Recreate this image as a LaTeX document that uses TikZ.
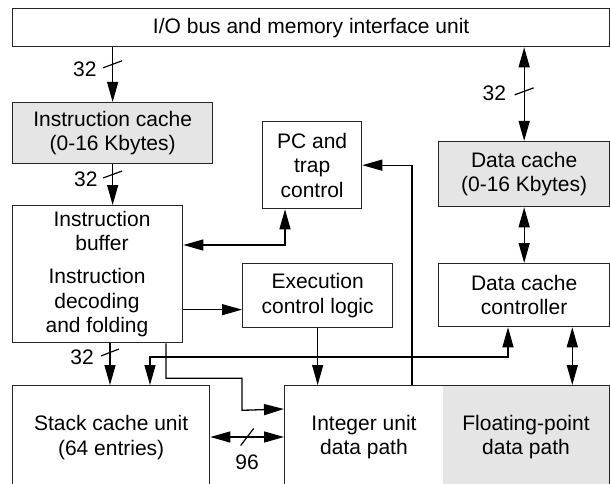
\documentclass[tikz,border=0pt]{standalone}
\usepackage{fontspec}
\setmainfont{Liberation Sans}
\usetikzlibrary{arrows.meta,positioning}

\tikzset{
  block/.style={draw=black!85, line width=1.3pt, anchor=north west, align=center, inner sep=0pt},
  cache/.style={block, fill=black!10},
  txt/.style={align=center, inner sep=0pt},
  wire/.style={line width=1.3pt, ->},
  wires/.style={line width=1.3pt, <->},
  busmark/.style={line width=1.2pt},
  buslabel/.style={inner sep=0pt}
}

\begin{document}
\begin{tikzpicture}[x=1pt, y=-1pt, font=\fontsize{21}{24.5}\selectfont,
    >={Triangle[length=20pt,width=11pt]}]
  \useasboundingbox (0,0) rectangle (610,484);
  \clip (0,0) rectangle (610,484);
  % blocks
  \node[block, minimum width=597pt, minimum height=38pt] (io) at (12,8) {I/O bus and memory interface unit};
  \node[cache, minimum width=200pt, minimum height=61pt] (icache) at (12,102) {Instruction cache\\(0-16 Kbytes)};
  \node[block, minimum width=170pt, minimum height=137pt] (ibuf) at (12,205) {};
  \node[txt] (ibuftop) at (102,231) {Instruction\\buffer};
  \node[txt] (ibufdec) at (97,303) {Instruction\\decoding\\and folding};
  \node[block, minimum width=99pt, minimum height=87pt] (pc) at (262,121) {PC and\\trap\\control};
  \node[block, minimum width=150pt, minimum height=64pt] (exec) at (242,263) {Execution\\control logic};
  \node[cache, minimum width=171pt, minimum height=65pt] (dcache) at (438,141) {Data cache\\(0-16 Kbytes)};
  \node[block, minimum width=171pt, minimum height=63pt] (dcc) at (438,263) {Data cache\\controller};
  \node[block, minimum width=197pt, minimum height=104pt] (stack) at (12,385) {Stack cache unit\\(64 entries)};
  \fill[black!10] (443,386) rectangle (610,490);
  \node[block, minimum width=325pt, minimum height=104pt] (intu) at (284,385) {};
  \node[txt] (inttext) at (364,437) {Integer unit\\data path};
  \node[txt] (fptext) at (526,437) {Floating-point\\data path};

  % port points
  \coordinate (ibpc) at ([yshift=-40pt]ibuf.north east);
  \coordinate (pcin) at ([xshift=23pt]pc.south west);
  \coordinate (ein) at ([yshift=-14pt]exec.west);
  \coordinate (fpin) at ([xshift=-38pt]dcc.south east);
  \coordinate (dccin) at ([xshift=70pt]dcc.south west);
  \coordinate (stin) at ([xshift=138pt]stack.north west);
  \coordinate (stbus) at ([xshift=98pt]stack.north west);
  \coordinate (ibout) at ([xshift=154pt]ibuf.south west);
  \coordinate (iuout) at ([xshift=128pt]intu.north west);
  \coordinate (iuin) at ([yshift=-24pt]intu.north west);
  \coordinate (st96) at ([yshift=-52pt]stack.north east);

  % connectors
  \draw[wire] (io.south -| icache.north) -- coordinate[pos=.31] (b1) (icache.north);
  \draw[wire] (icache.south) -- coordinate[pos=.25] (b2) (icache.south |- ibuf.north);
  \draw[wires] (io.south -| dcache.north) -- coordinate[pos=.47] (b3) (dcache.north);
  \draw[wires] (dcache.south) -- (dcc.north);
  \draw[wires] (ibpc) -| (pcin);
  \draw[wire] (ibuf.east |- ein) -- (ein);
  \draw[wire] (exec.south) -- (exec.south |- intu.north);
  \draw[wire] (iuout) |- (pc.east);
  \draw[wires] (fpin) -- (fpin |- intu.north);
  \draw[wires] (stin) -- ++(0,-28) -| (dccin);
  \draw[wire] (stbus |- ibuf.south) -- coordinate[pos=.22] (b4) (stbus);
  \draw[wire] (ibout) -- ++(0,35) -| ++(76,32) -- (iuin);
  \draw[wires] (st96) -- coordinate[pos=.5] (b5) (st96 -| intu.west);

  % bus widths
  \draw[busmark] ([shift={(-9.5,3.5)}]b1) -- ([shift={(9.5,-3.5)}]b1);
  \node[buslabel, left=16pt of b1, yshift=-5pt] (w1) {32};
  \draw[busmark] ([shift={(-9.5,3.5)}]b2) -- ([shift={(9.5,-3.5)}]b2);
  \node[buslabel, left=15pt of b2, yshift=-5pt] (w2) {32};
  \draw[busmark] ([shift={(-9.5,3.5)}]b3) -- ([shift={(9.5,-3.5)}]b3);
  \node[buslabel, left=18pt of b3, yshift=-1.5pt] (w3) {32};
  \draw[busmark] ([shift={(-9,3.5)}]b4) -- ([shift={(9,-3.5)}]b4);
  \node[buslabel, left=16pt of b4, yshift=-5pt] (w4) {32};
  \draw[busmark] ([shift={(-6.5,8.5)}]b5) -- ([shift={(6.5,-8.5)}]b5);
  \node[buslabel, below=18pt of b5] (w5) {96};
\end{tikzpicture}
\end{document}
